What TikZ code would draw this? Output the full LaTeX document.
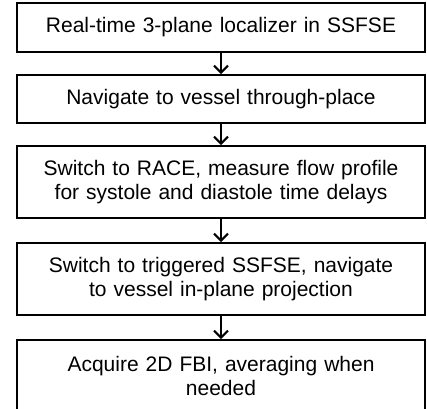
\documentclass[tikz,border=0pt]{standalone}
\usepackage{fontspec}
\setmainfont{Liberation Sans}
\usetikzlibrary{arrows.meta}

\tikzset{
  stepbox/.style={draw=black, line width=1.9pt, fill=white, inner sep=0pt,
    minimum width=408pt, text width=400pt, align=center,
    font=\fontsize{21}{24}\selectfont},
  flowarrow/.style={line width=1.8pt,
    -{Straight Barb[length=7pt,width=14pt,line width=2pt]}},
}

\begin{document}
\begin{tikzpicture}[x=1pt, y=1pt]
  \useasboundingbox (0,0) rectangle (427,408);
  \clip (0,0) rectangle (427,408);

  % the five steps of the scan protocol, top to bottom
  \node[stepbox, minimum height=49pt] (s1) at (221,380.5)
    {Real-time 3-plane localizer in SSFSE};
  \node[stepbox, minimum height=48pt] (s2) at (221,309)
    {Navigate to vessel through-place};
  \node[stepbox, minimum height=72pt] (s3) at (221,226)
    {Switch to RACE, measure flow profile\\for systole and diastole time delays};
  \node[stepbox, minimum height=72pt] (s4) at (221,129)
    {Switch to triggered SSFSE, navigate\\to vessel in-plane projection};
  \node[stepbox, minimum height=72pt] (s5) at (221,32)
    {Acquire 2D FBI, averaging when\\needed};

  % connectors between consecutive steps
  \draw[flowarrow] (s1) -- (s2);
  \draw[flowarrow] (s2) -- (s3);
  \draw[flowarrow] (s3) -- (s4);
  \draw[flowarrow] (s4) -- (s5);
\end{tikzpicture}
\end{document}
